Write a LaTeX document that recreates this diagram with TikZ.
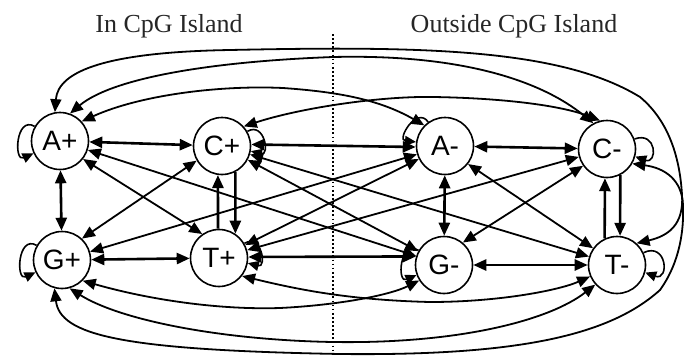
\documentclass[tikz,border=0pt]{standalone}
\usepackage{fontspec}
\setmainfont{Liberation Serif}
\newfontfamily\nodefont{Liberation Sans}
\usetikzlibrary{arrows.meta}
\begin{document}
\begin{tikzpicture}[x=1pt,y=-1pt,
  >={Triangle[length=13pt,width=11pt]},
  st/.style={circle,draw,line width=1.6pt,minimum size=57pt,inner sep=0pt,
    font=\nodefont\fontsize{28}{28}\selectfont},
  title/.style={anchor=base,font=\fontsize{26}{30}\selectfont,text=black!85},
  bi/.style={<->,line width=1.8pt},
  bithick/.style={<->,line width=2.6pt},
  onethick/.style={->,line width=2.6pt},
  selfloop/.style={-{Triangle[length=11pt,width=10pt]},line width=1.6pt},
  divider/.style={line width=1.7pt,dash pattern=on 1.7pt off 2.4pt}]
\useasboundingbox (0,0) rectangle (684,356);

\node[title] (t1) at (169,32) {In CpG Island};
\node[title] (t2) at (514,32) {Outside CpG Island};
\coordinate (d1) at (333,34);
\coordinate (d2) at (333,352);
\draw[divider] (d1) -- (d2);

\node[st] (Ap) at (60,141) {A+};
\node[st] (Cp) at (222,146) {C+};
\node[st] (Gp) at (62,260) {G+};
\node[st] (Tp) at (219,258) {T+};
\node[st] (Am) at (445,146) {A-};
\node[st] (Cm) at (607,149) {C-};
\node[st] (Gm) at (444,265) {G-};
\node[st] (Tm) at (617,265) {T-};

% within CpG island
\draw[bithick] (Ap) -- (Cp);
\draw[bithick] (Ap) -- (Gp);
\draw[bithick] (Gp) -- (Tp);
\draw[bi] (Ap.-38) -- (Tp.125);
\draw[bi] (Cp.210) -- (Gp.47);
\draw[onethick] (Tp.92) -- (Cp.-98);
\draw[onethick] (Cp.-63) -- (Tp.56);

% outside
\draw[bithick] (Am) -- (Cm);
\draw[bithick] (Am) -- (Gm);
\draw[bithick] (Gm) -- (Tm);
\draw[bi] (Am.-38) -- (Tm.145);
\draw[bi] (Cm.215) -- (Gm.50);
\draw[onethick] (Tm.115) -- (Cm.-94);
\draw[onethick] (Cm.-63) -- (Tm.84);

% cross straight
\draw[bithick] (Cp.3) -- (Am.182);
\draw[bithick] (Tp.2) -- (Gm.163);
\draw[bi] (Ap) -- (Gm);
\draw[bi] (Gp) -- (Am);
\draw[bi] (Cp) -- (Gm);
\draw[bi] (Cp) -- (Tm);
\draw[bi] (Tp) -- (Am);
\draw[bi] (Tp) -- (Cm);

% cross curves (top)
\draw[bi] (Ap.100) .. controls (58,70) and (110,52) .. (230,50)
  .. controls (420,46) and (560,48) .. (640,97)
  .. controls (670,122) and (680,160) .. (682,195)
  .. controls (684,225) and (668,236) .. (Tm.48);
\draw[bi] (Ap.70) .. controls (110,80) and (200,62) .. (333,57)
  .. controls (460,54) and (540,80) .. (Cm.118);
\draw[bi] (Ap.42) .. controls (140,95) and (220,85) .. (283,88)
  .. controls (340,92) and (380,100) .. (Am.135);
\draw[bi] (Cp.42) .. controls (300,108) and (380,96) .. (433,97)
  .. controls (500,98) and (560,105) .. (Cm.104);

% cross curves (bottom)
\draw[bi] (Gp.-45) .. controls (150,300) and (220,310) .. (280,308)
  .. controls (340,305) and (390,295) .. (Gm.212);
\draw[bi] (Tp.-38) .. controls (300,290) and (350,300) .. (430,302)
  .. controls (500,302) and (560,290) .. (Tm.203);
\draw[bi] (Gp.-75) .. controls (120,320) and (220,340) .. (333,342)
  .. controls (460,344) and (550,320) .. (Tm.222);
\draw[bi] (Gp.-105) .. controls (60,335) and (120,350) .. (340,354)
  .. controls (520,356) and (610,335) .. (660,290)
  .. controls (680,262) and (684,230) .. (683,205)
  .. controls (682,180) and (665,168) .. (Cm.-30);

% self loops
\draw[selfloop] (Ap.150) .. controls +(150:22pt) and +(205:22pt) .. (Ap.205);
\draw[selfloop] (Gp.150) .. controls +(150:22pt) and +(205:22pt) .. (Gp.205);
\draw[selfloop] (Cp.30) .. controls +(30:20pt) and +(-15:20pt) .. (Cp.-10);
\draw[selfloop] (Tp.30) .. controls +(30:20pt) and +(-15:20pt) .. (Tp.-10);
\draw[selfloop] (Am.125) .. controls +(125:20pt) and +(175:20pt) .. (Am.172);
\draw[selfloop] (Cm.20) .. controls +(20:24pt) and +(-20:24pt) .. (Cm.-15);
\draw[selfloop] (Gm.150) .. controls +(150:22pt) and +(205:22pt) .. (Gm.200);
\draw[selfloop] (Tm.25) .. controls +(25:26pt) and +(-20:26pt) .. (Tm.-15);
\end{tikzpicture}
\end{document}
